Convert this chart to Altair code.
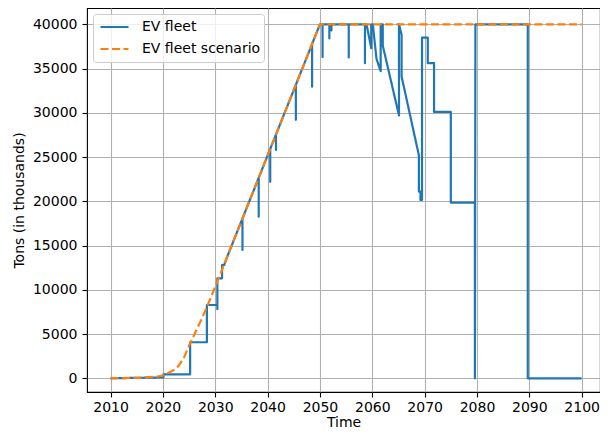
import altair as alt
import pandas as pd

SERIES = ["EV fleet", "EV fleet scenario"]
COLORS = ["#1f77b4", "#ff7f0e"]

fleet_years = [
    2010, 2020.1, 2020.1, 2025.2, 2025.2, 2028.4, 2028.4, 2030.4, 2030.4, 2030.4,
    2031.3, 2031.3, 2031.7, 2032.3,
    2035.2, 2035.2, 2035.2,
    2038.3, 2038.3, 2038.3,
    2040.5, 2040.5, 2040.5,
    2041.6, 2041.6, 2041.6,
    2045.4, 2045.4, 2045.4,
    2048.5, 2048.5, 2048.5,
    2050.0,
    2050.5, 2050.5, 2050.5,
    2051.8, 2051.8, 2051.8,
    2052.2, 2052.2, 2052.2,
    2055.5, 2055.5, 2055.5,
    2058.6, 2058.6, 2058.6,
    2058.9, 2059.8, 2059.8,
    2060.1, 2060.8, 2061.6, 2061.6,
    2062.0, 2062.0, 2065.1, 2065.1,
    2065.6, 2065.6, 2068.9, 2068.9, 2069.2, 2069.2, 2069.5, 2069.5,
    2070.6, 2070.6, 2071.8, 2071.8, 2075.0, 2075.0, 2079.6, 2079.6, 2079.7,
    2089.7, 2089.7, 2100,
]
fleet_values = [
    0, 100, 450, 450, 4070, 4070, 8280, 8280, 7800, 11300,
    11300, 12800, 12800, 13760,
    18060, 14500, 18060,
    22650, 18260, 22650,
    25910, 22200, 25910,
    27540, 25800, 27540,
    33170, 29200, 33170,
    37770, 32950, 37770,
    40000,
    40000, 36300, 40000,
    40000, 38400, 40000,
    40000, 39300, 40000,
    40000, 36250, 40000,
    40000, 35600, 40000,
    40000, 37300, 40000,
    40000, 36100, 34700, 40000,
    40000, 37600, 29700, 40000,
    38800, 34100, 25200, 21100, 21100, 20150, 20150, 38500,
    38500, 35600, 35600, 30100, 30100, 19850, 19850, 0, 40000,
    40000, 0, 0,
]

scen_years = [2010, 2015, 2019, 2020, 2021, 2022, 2023, 2024, 2025, 2026, 2027,
              2028, 2029, 2030, 2035, 2040, 2045, 2050, 2060, 2070, 2080, 2090, 2100]
scen_values = [0, 50, 200, 300, 600, 900, 1400, 2300, 3700, 4950, 6200,
               7500, 8900, 10350, 17760, 25170, 32580, 40000, 40000, 40000, 40000, 40000, 40000]

x_ticks = [2010, 2020, 2030, 2040, 2050, 2060, 2070, 2080, 2090, 2100]
y_ticks = [0, 5000, 10000, 15000, 20000, 25000, 30000, 35000, 40000]

rows = []
for i, (t, v) in enumerate(zip(fleet_years, fleet_values)):
    rows.append({"t": t, "v": v, "series": SERIES[0], "i": i})
for i, (t, v) in enumerate(zip(scen_years, scen_values)):
    rows.append({"t": t, "v": v, "series": SERIES[1], "i": i})
df = pd.DataFrame(rows)

legend = alt.Legend(title=None, orient="none", legendX=6, legendY=6)

chart = alt.Chart(df).mark_line(strokeWidth=2.2, strokeJoin="round").encode(
    x=alt.X("t:Q",
            scale=alt.Scale(domain=[2005.5, 2103.5], nice=False, zero=False),
            axis=alt.Axis(values=x_ticks, format="d", title="Time")),
    y=alt.Y("v:Q",
            scale=alt.Scale(domain=[-1550, 41840], nice=False, zero=False),
            axis=alt.Axis(values=y_ticks, format="d", title="Tons (in thousands)")),
    color=alt.Color("series:N", scale=alt.Scale(domain=SERIES, range=COLORS), legend=legend),
    strokeDash=alt.StrokeDash("series:N",
                              scale=alt.Scale(domain=SERIES, range=[[1, 0], [8, 3.5]]),
                              legend=legend),
    order=alt.Order("i:Q"),
).properties(
    width=513,
    height=384,
    autosize=alt.AutoSizeParams(type="none"),
    padding={"left": 79, "top": 0, "right": 0, "bottom": 36},
).configure_view(
    stroke="black", strokeWidth=1.1
).configure_axis(
    grid=True, gridColor="#b0b0b0", gridWidth=1.1, domain=False,
    tickColor="black", tickSize=5, tickWidth=1.1,
    labelFont="DejaVu Sans", labelFontSize=14, labelColor="black",
    titleFont="DejaVu Sans", titleFontSize=14, titleFontWeight="normal", titleColor="black",
).configure_axisX(
    labelPadding=3, titlePadding=1
).configure_axisY(
    labelPadding=5, titlePadding=6
).configure_legend(
    padding=3, rowPadding=2, clipHeight=20,
    symbolType="stroke", symbolSize=784, symbolStrokeWidth=2.2, symbolOffset=3,
    labelOffset=12, labelFont="DejaVu Sans", labelFontSize=14, labelColor="black",
    fillColor="rgba(255,255,255,0.8)", strokeColor="#cccccc", cornerRadius=3,
)

chart.save("out.html", embed_options={"renderer": "svg", "actions": False})
